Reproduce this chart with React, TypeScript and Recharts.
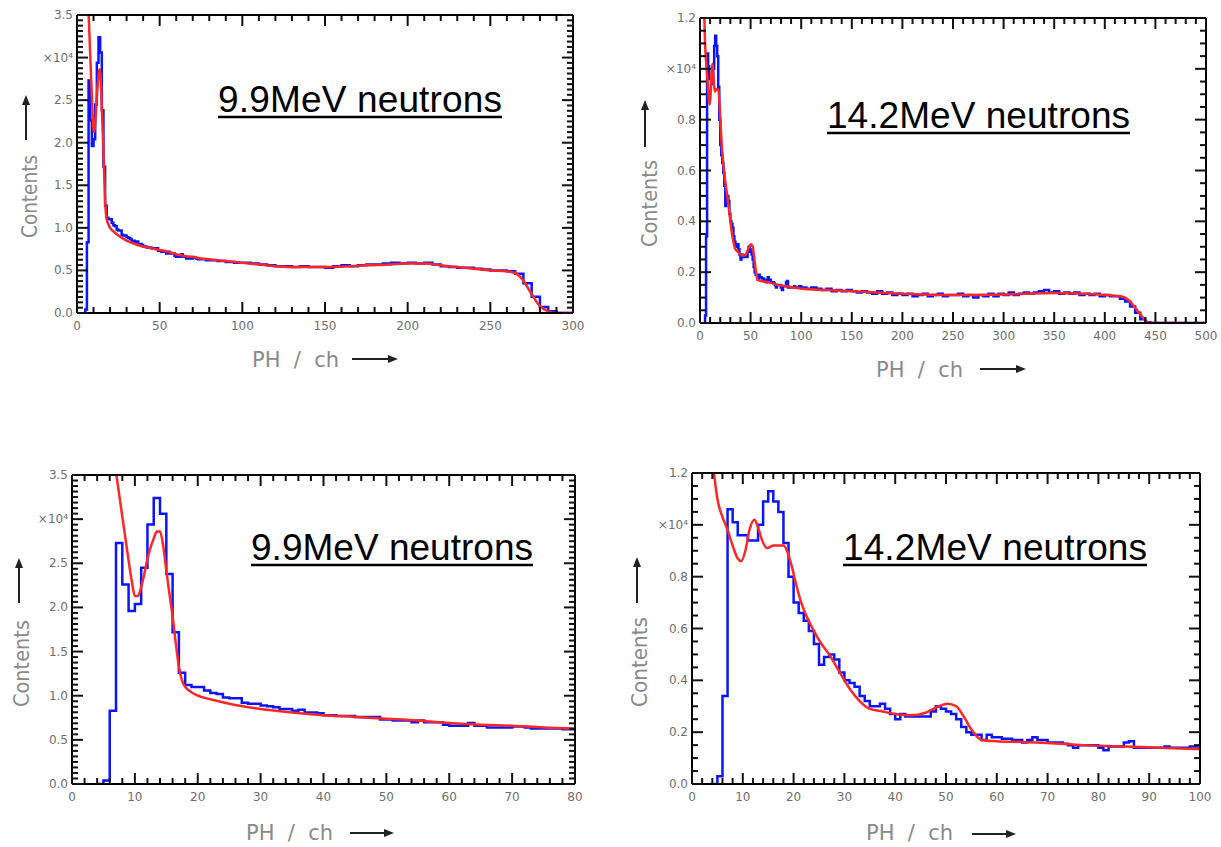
import React from 'react';
import { LineChart, Line, XAxis, YAxis } from 'recharts';

const W = 1221;
const H = 847;

// 9.9 MeV measured spectrum (x10^4), 1-channel bins from ch 4 to 79
const fineCounts99 = [
  0, 0.04, 0.83, 2.73, 2.26, 1.96, 2.04, 2.45, 2.94, 3.24, 3.06, 2.38, 1.72, 1.26, 1.12, 1.1,
  1.1, 1.06, 1.03, 1.02, 0.98, 0.97, 0.97, 0.92, 0.91, 0.91, 0.89, 0.88, 0.87, 0.85, 0.85, 0.83,
  0.84, 0.81, 0.81, 0.8, 0.78, 0.78, 0.77, 0.77, 0.77, 0.76, 0.76, 0.76, 0.76, 0.73, 0.73, 0.72,
  0.72, 0.72, 0.7, 0.72, 0.7, 0.7, 0.7, 0.67, 0.66, 0.66, 0.66, 0.69, 0.66, 0.66, 0.64, 0.64,
  0.64, 0.64, 0.65, 0.65, 0.64, 0.63, 0.63, 0.63, 0.63, 0.63, 0.62, 0.62,
];
// 5-channel bins from ch 80 to 295
const coarseCounts99 = [
  0.62, 0.61, 0.6, 0.59, 0.59, 0.58, 0.57, 0.56, 0.55, 0.55, 0.54, 0.55, 0.54, 0.54,
  0.53, 0.55, 0.56, 0.55, 0.56, 0.57, 0.57, 0.58, 0.59, 0.58, 0.59, 0.58, 0.59, 0.57,
  0.55, 0.54, 0.53, 0.53, 0.52, 0.51, 0.5, 0.5, 0.49, 0.46, 0.35, 0.19, 0.07, 0.02, 0, 0,
];

// 9.9 MeV calculated response (red)
const fitX99 = [
  6.5, 7, 7.5, 8, 8.5, 9, 9.5, 10, 10.5, 11, 11.5, 12, 12.5, 13, 13.5, 14, 14.5, 15, 15.5, 16,
  16.5, 17, 17.5, 18, 19, 20, 22, 25, 30, 35, 40, 45, 50, 55, 60, 65, 70, 75, 80, 90, 100, 110,
  120, 135, 150, 165, 175, 190, 200, 210, 220, 230, 240, 250, 260, 265, 270, 275, 280, 285, 290, 300,
];
const fitY99 = [
  3.8, 3.53, 3.28, 3.03, 2.78, 2.53, 2.3, 2.13, 2.13, 2.23, 2.38, 2.55, 2.68, 2.78, 2.86, 2.86,
  2.7, 2.42, 2.15, 1.9, 1.6, 1.33, 1.17, 1.1, 1.04, 1.0, 0.96, 0.91, 0.85, 0.81, 0.78, 0.76,
  0.74, 0.72, 0.69, 0.67, 0.66, 0.64, 0.63, 0.61, 0.59, 0.57, 0.55, 0.54, 0.54, 0.55, 0.56,
  0.57, 0.58, 0.58, 0.56, 0.54, 0.52, 0.5, 0.49, 0.47, 0.38, 0.22, 0.08, 0.02, 0, 0,
];

// 14.2 MeV measured spectrum (x10^4), 1-channel bins from ch 4 to 99
const fineCounts14 = [
  0, 0.03, 0.34, 1.06, 1.01, 0.96, 0.96, 0.94, 0.94, 1.0, 1.09, 1.13, 1.09, 1.05, 0.93, 0.8,
  0.7, 0.66, 0.63, 0.59, 0.54, 0.46, 0.49, 0.5, 0.48, 0.43, 0.4, 0.39, 0.375, 0.34, 0.32, 0.3,
  0.3, 0.31, 0.29, 0.27, 0.25, 0.27, 0.26, 0.26, 0.26, 0.26, 0.26, 0.28, 0.3, 0.29, 0.28, 0.27,
  0.25, 0.22, 0.2, 0.19, 0.19, 0.17, 0.19, 0.18, 0.18, 0.175, 0.175, 0.17, 0.17, 0.16, 0.17,
  0.18, 0.17, 0.17, 0.16, 0.16, 0.16, 0.155, 0.15, 0.14, 0.15, 0.15, 0.15, 0.15, 0.14, 0.13,
  0.145, 0.145, 0.145, 0.16, 0.165, 0.14, 0.14, 0.14, 0.14, 0.14, 0.14, 0.145, 0.14, 0.14,
  0.14, 0.14, 0.145, 0.145,
];
// 5-channel bins from ch 100 to 495
const coarseCounts14 = [
  0.14, 0.135, 0.14, 0.135, 0.13, 0.135, 0.125, 0.13, 0.125, 0.13,
  0.125, 0.12, 0.125, 0.12, 0.115, 0.125, 0.115, 0.12, 0.11, 0.115,
  0.11, 0.115, 0.105, 0.11, 0.115, 0.105, 0.11, 0.115, 0.105, 0.11,
  0.11, 0.115, 0.105, 0.11, 0.1, 0.11, 0.105, 0.115, 0.105, 0.115,
  0.11, 0.12, 0.11, 0.115, 0.12, 0.115, 0.12, 0.125, 0.13, 0.12,
  0.125, 0.115, 0.12, 0.115, 0.12, 0.11, 0.115, 0.11, 0.115, 0.105,
  0.11, 0.105, 0.105, 0.095, 0.085, 0.065, 0.04, 0.015, 0.003, 0,
  0, 0, 0, 0, 0, 0, 0, 0, 0, 0,
];

// 14.2 MeV calculated response (red)
const fitX14 = [
  4, 4.5, 5, 6, 7, 8, 9, 9.7, 10.5, 11.3, 12.3, 13, 13.8, 14.8, 16, 17, 18, 18.7, 19.5, 20.5,
  21.5, 22.5, 24, 25.5, 27, 28.5, 30, 31.5, 33, 35, 37.5, 40, 43, 46, 48, 50.3, 52, 53.5, 55, 57,
  60, 65, 70, 77, 85, 92, 100, 125, 150, 175, 200, 250, 300, 350, 380, 400, 415, 420, 425, 430,
  435, 440, 445, 500,
];
const fitY14 = [
  1.25, 1.17, 1.1, 1.03, 0.98, 0.92, 0.87, 0.86, 0.9, 0.98, 1.02, 0.99, 0.94, 0.91, 0.92, 0.92,
  0.92, 0.9, 0.85, 0.77, 0.7, 0.65, 0.59, 0.54, 0.5, 0.45, 0.4, 0.355, 0.32, 0.29, 0.28, 0.27,
  0.265, 0.275, 0.295, 0.31, 0.3, 0.26, 0.21, 0.17, 0.165, 0.162, 0.158, 0.15, 0.145, 0.14,
  0.135, 0.13, 0.125, 0.12, 0.115, 0.11, 0.112, 0.118, 0.115, 0.11, 0.105, 0.1, 0.085, 0.06,
  0.035, 0.01, 0, 0,
];

// tick labels
const xMajor300 = [0, 50, 100, 150, 200, 250, 300];
const xMajor500 = [0, 50, 100, 150, 200, 250, 300, 350, 400, 450, 500];
const xMajor80 = [0, 10, 20, 30, 40, 50, 60, 70, 80];
const xMajor100 = [0, 10, 20, 30, 40, 50, 60, 70, 80, 90, 100];
const yMajor35 = [0, 0.5, 1, 1.5, 2, 2.5, 3, 3.5];
const yLabels35 = ['0.0', '0.5', '1.0', '1.5', '2.0', '2.5', '×10⁴', '3.5'];
const yMajor12 = [0, 0.2, 0.4, 0.6, 0.8, 1, 1.2];
const yLabels12 = ['0.0', '0.2', '0.4', '0.6', '0.8', '×10⁴', '1.2'];

type Pt = { x: number; y: number };
type Box = { l: number; t: number; r: number; b: number };

const range = (a: number, b: number, step: number) => {
  const out: number[] = [];
  const n = Math.round((b - a) / step);
  for (let i = 0; i <= n; i++) out.push(+(a + i * step).toFixed(6));
  return out;
};

const histPoints = (fine: number[], fineStart: number, coarse: number[], coarseStart: number, step: number) => {
  const pts: Pt[] = fine.map((v, i) => ({ x: fineStart + i, y: v }));
  coarse.forEach((v, i) => pts.push({ x: coarseStart + i * step, y: v }));
  pts.push({ x: coarseStart + coarse.length * step, y: coarse[coarse.length - 1] });
  return pts;
};

const hist99 = histPoints(fineCounts99, 4, coarseCounts99, 80, 5);
const hist14 = histPoints(fineCounts14, 4, coarseCounts14, 100, 5);
const fit99: Pt[] = fitX99.map((x, i) => ({ x, y: fitY99[i] }));
const fit14: Pt[] = fitX14.map((x, i) => ({ x, y: fitY14[i] }));

const TICK_FONT = "'DejaVu Sans', sans-serif";

// ticks point into the plot, labels sit outside (ROOT style)
const makeTick = (side: string, box: Box, major: number[], labels?: string[]) => (props: any) => {
  const { x, y, payload } = props;
  const v = payload.value;
  const mi = major.findIndex((m) => Math.abs(m - v) < 1e-6);
  const len = mi >= 0 ? 11 : 6;
  let line = null;
  let label = null;
  if (side === 'bottom') {
    line = <line x1={x} x2={x} y1={box.b} y2={box.b - len} />;
    if (mi >= 0)
      label = (
        <text x={x} y={box.b + 17} textAnchor="middle" fontSize={12} fill="#6e6e6e" stroke="none" fontFamily={TICK_FONT}>
          {String(v)}
        </text>
      );
  } else if (side === 'top') {
    line = <line x1={x} x2={x} y1={box.t} y2={box.t + len} />;
  } else if (side === 'left') {
    line = <line x1={box.l} x2={box.l + len} y1={y} y2={y} />;
    if (mi >= 0 && labels)
      label = (
        <text x={box.l - 4} y={y + 4} textAnchor="end" fontSize={12} fill="#6e6e6e" stroke="none" fontFamily={TICK_FONT}>
          {labels[mi]}
        </text>
      );
  } else {
    line = <line x1={box.r} x2={box.r - len} y1={y} y2={y} />;
  }
  return (
    <g stroke="#111" strokeWidth={2}>
      {line}
      {label}
    </g>
  );
};

interface PanelProps {
  box: Box;
  xDomain: [number, number];
  xMajor: number[];
  xMinor: number;
  yDomain: [number, number];
  yMajor: number[];
  yLabels: string[];
  yMinor: number;
  hist: Pt[];
  fit: Pt[];
}

const frame = { stroke: '#000', strokeWidth: 2 };

const Panel = ({ box, xDomain, xMajor, xMinor, yDomain, yMajor, yLabels, yMinor, hist, fit }: PanelProps) => {
  const xTicks = range(xDomain[0], xDomain[1], xMinor);
  const yTicks = range(yDomain[0], yDomain[1], yMinor);
  const axisCommon = {
    type: 'number' as const,
    allowDataOverflow: true,
    interval: 0 as const,
    tickSize: 0,
    tickMargin: 0,
    tickLine: false,
    axisLine: frame,
  };
  return (
    <div style={{ position: 'absolute', left: 0, top: 0 }}>
      <LineChart
        width={W}
        height={H}
        margin={{ top: box.t - 1, left: box.l - 1, right: W - box.r - 1, bottom: H - box.b - 1 }}
      >
        <XAxis
          {...axisCommon}
          xAxisId="b"
          dataKey="x"
          domain={xDomain}
          ticks={xTicks}
          height={1}
          tick={makeTick('bottom', box, xMajor)}
        />
        <XAxis
          {...axisCommon}
          xAxisId="t"
          orientation="top"
          dataKey="x"
          domain={xDomain}
          ticks={xTicks}
          height={1}
          tick={makeTick('top', box, xMajor)}
        />
        <YAxis
          {...axisCommon}
          yAxisId="l"
          domain={yDomain}
          ticks={yTicks}
          width={1}
          tick={makeTick('left', box, yMajor, yLabels)}
        />
        <YAxis
          {...axisCommon}
          yAxisId="r"
          orientation="right"
          domain={yDomain}
          ticks={yTicks}
          width={1}
          tick={makeTick('right', box, yMajor)}
        />
        <Line
          xAxisId="b"
          yAxisId="l"
          data={hist}
          dataKey="y"
          type="stepAfter"
          stroke="#0a14ff"
          strokeWidth={2.5}
          dot={false}
          isAnimationActive={false}
        />
        <Line
          xAxisId="b"
          yAxisId="l"
          data={fit}
          dataKey="y"
          type="monotone"
          stroke="#ff2626"
          strokeWidth={2.5}
          dot={false}
          isAnimationActive={false}
        />
        {/* invisible series so the top/right axes get a domain */}
        <Line
          xAxisId="t"
          yAxisId="r"
          data={fit}
          dataKey="y"
          stroke="none"
          dot={false}
          legendType="none"
          isAnimationActive={false}
        />
      </LineChart>
    </div>
  );
};

const titles = [
  { text: '9.9MeV neutrons', x: 218, y: 112, w: 284 },
  { text: '14.2MeV neutrons', x: 827, y: 128, w: 303 },
  { text: '9.9MeV neutrons', x: 251, y: 560, w: 282 },
  { text: '14.2MeV neutrons', x: 843, y: 560, w: 304 },
];

const yTitles = [
  { bx: 37, by: 238, len: 83, ax: 26, tail: 140, head: 95 },
  { bx: 657, by: 247, len: 87, ax: 645, tail: 147, head: 100 },
  { bx: 29, by: 707, len: 87, ax: 19, tail: 603, head: 558 },
  { bx: 647, by: 707, len: 90, ax: 637, tail: 603, head: 557 },
];

const xTitles = [
  { x: 252, y: 367, ay: 359, tail: 352, head: 398 },
  { x: 876, y: 377, ay: 369, tail: 980, head: 1026 },
  { x: 246, y: 840, ay: 833, tail: 350, head: 394 },
  { x: 866, y: 840, ay: 834, tail: 972, head: 1016 },
];

const Labels = () => (
  <svg width={W} height={H} style={{ position: 'absolute', left: 0, top: 0, pointerEvents: 'none' }}>
    {titles.map((t, i) => (
      <g key={`t${i}`}>
        <text
          x={t.x}
          y={t.y}
          fontSize={37}
          fontFamily="'Liberation Sans', Arial, sans-serif"
          fill="#000"
          textLength={t.w}
        >
          {t.text}
        </text>
        <line x1={t.x} x2={t.x + t.w} y1={t.y + 5} y2={t.y + 5} stroke="#000" strokeWidth={2.5} />
      </g>
    ))}
    {yTitles.map((t, i) => (
      <g key={`y${i}`}>
        <text
          transform={`translate(${t.bx},${t.by}) rotate(-90)`}
          fontSize={22}
          fontFamily={TICK_FONT}
          fill="#8a8a8a"
          textLength={t.len}
          lengthAdjust="spacingAndGlyphs"
        >
          Contents
        </text>
        <line x1={t.ax} x2={t.ax} y1={t.tail} y2={t.head + 8} stroke="#222" strokeWidth={2} />
        <polygon
          points={`${t.ax},${t.head} ${t.ax - 4},${t.head + 10} ${t.ax + 4},${t.head + 10}`}
          fill="#222"
        />
      </g>
    ))}
    {xTitles.map((t, i) => (
      <g key={`x${i}`}>
        <text
          x={t.x}
          y={t.y}
          fontSize={21}
          fontFamily={TICK_FONT}
          fill="#8a8a8a"
          style={{ whiteSpace: 'pre' }}
        >
          {'PH  /  ch'}
        </text>
        <line x1={t.tail} x2={t.head - 8} y1={t.ay} y2={t.ay} stroke="#222" strokeWidth={2} />
        <polygon
          points={`${t.head},${t.ay} ${t.head - 10},${t.ay - 4} ${t.head - 10},${t.ay + 4}`}
          fill="#222"
        />
      </g>
    ))}
  </svg>
);

export default function App() {
  return (
    <div style={{ position: 'absolute', left: 0, top: 0, width: W, height: H, background: '#fff' }}>
      <Panel
        box={{ l: 77, t: 15, r: 573, b: 313 }}
        xDomain={[0, 300]}
        xMajor={xMajor300}
        xMinor={10}
        yDomain={[0, 3.5]}
        yMajor={yMajor35}
        yLabels={yLabels35}
        yMinor={0.0625}
        hist={hist99}
        fit={fit99}
      />
      <Panel
        box={{ l: 700, t: 18, r: 1206, b: 323 }}
        xDomain={[0, 500]}
        xMajor={xMajor500}
        xMinor={10}
        yDomain={[0, 1.2]}
        yMajor={yMajor12}
        yLabels={yLabels12}
        yMinor={0.05}
        hist={hist14}
        fit={fit14}
      />
      <Panel
        box={{ l: 72, t: 475, r: 575, b: 784 }}
        xDomain={[0, 80]}
        xMajor={xMajor80}
        xMinor={2}
        yDomain={[0, 3.5]}
        yMajor={yMajor35}
        yLabels={yLabels35}
        yMinor={0.0625}
        hist={hist99.filter((p) => p.x <= 80)}
        fit={fit99.filter((p) => p.x <= 80)}
      />
      <Panel
        box={{ l: 692, t: 473, r: 1200, b: 784 }}
        xDomain={[0, 100]}
        xMajor={xMajor100}
        xMinor={2}
        yDomain={[0, 1.2]}
        yMajor={yMajor12}
        yLabels={yLabels12}
        yMinor={0.05}
        hist={hist14.filter((p) => p.x <= 100)}
        fit={fit14.filter((p) => p.x <= 100)}
      />
      <Labels />
    </div>
  );
}
